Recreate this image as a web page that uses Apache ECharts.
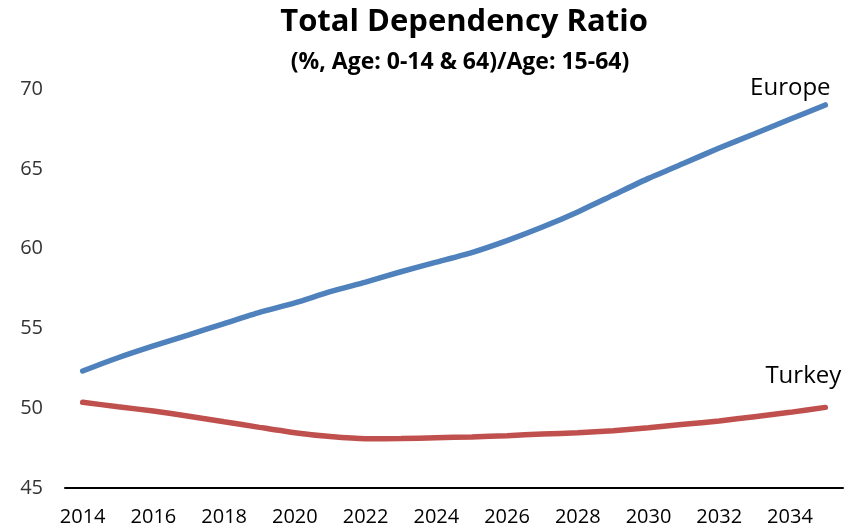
<!DOCTYPE html>
<html>
<head>
<meta charset="utf-8">
<script src="https://cdn.jsdelivr.net/npm/echarts@6/dist/echarts.min.js"></script>
<style>
html,body{margin:0;padding:0;background:#fff;}
#chart{width:860px;height:530px;}
</style>
</head>
<body>
<div id="chart"></div>
<script>
const years = ['2014','2015','2016','2017','2018','2019','2020','2021','2022','2023','2024',
               '2025','2026','2027','2028','2029','2030','2031','2032','2033','2034','2035'];
const europe = [52.33,53.16,53.9,54.6,55.3,56.0,56.6,57.3,57.9,58.55,59.15,
                59.75,60.5,61.35,62.3,63.35,64.4,65.35,66.3,67.2,68.1,69.0];
const turkey = [50.37,50.09,49.82,49.5,49.15,48.8,48.46,48.22,48.09,48.1,48.15,
                48.2,48.28,48.38,48.46,48.59,48.78,48.99,49.2,49.47,49.74,50.05];
const seriesNames = ['Europe','Turkey'];
const titleText = 'Total Dependency Ratio';
const subtitleText = '(%, Age: 0-14 & 64)/Age: 15-64)';
const yTicks = [45,50,55,60,65,70];

const FONT = 'Open Sans';
const chart = echarts.init(document.getElementById('chart'));
const lastIdx = years.length - 1;

function endMark(name, vals, offset) {
  return {
    symbol: 'circle', symbolSize: 0,
    data: [{ coord: [years[lastIdx], vals[lastIdx]] }],
    label: { show: true, formatter: name, position: 'top', offset: offset,
             fontFamily: FONT, fontSize: 24, color: '#000' }
  };
}

chart.setOption({
  animation: false,
  backgroundColor: '#fff',
  title: [{
    text: titleText,
    left: 459, top: 2, textAlign: 'center',
    textStyle: { fontFamily: FONT, fontWeight: 'bold', fontSize: 31, color: '#000' }
  }, {
    text: subtitleText,
    left: 455, top: 46, textAlign: 'center',
    textStyle: { fontFamily: FONT, fontWeight: 'bold', fontSize: 23, color: '#000' }
  }],
  grid: { left: 65, right: 17, top: 89, bottom: 42, containLabel: false },
  xAxis: {
    type: 'category', data: years, boundaryGap: true,
    axisLine: { show: true, lineStyle: { color: '#000', width: 2 } },
    axisTick: { show: false },
    axisLabel: { interval: 1, margin: 19, fontFamily: FONT, fontSize: 20, color: '#000' },
    splitLine: { show: false }
  },
  yAxis: {
    type: 'value', min: yTicks[0], max: yTicks[yTicks.length-1], interval: 5,
    axisLine: { show: false }, axisTick: { show: false },
    splitLine: { show: false },
    axisLabel: { margin: 22, fontFamily: FONT, fontSize: 20, color: '#333' }
  },
  series: [
    { name: seriesNames[0], type: 'line', data: europe, smooth: 0.2, showSymbol: false,
      lineStyle: { color: '#4F81BD', width: 5.5, cap: 'round' }, itemStyle: { color: '#4F81BD' },
      markPoint: endMark(seriesNames[0], europe, [-35, 0]) },
    { name: seriesNames[1], type: 'line', data: turkey, smooth: 0.2, showSymbol: false,
      lineStyle: { color: '#C0504D', width: 5.5, cap: 'round' }, itemStyle: { color: '#C0504D' },
      markPoint: endMark(seriesNames[1], turkey, [-22, -14]) }
  ]
});
</script>
</body>
</html>
